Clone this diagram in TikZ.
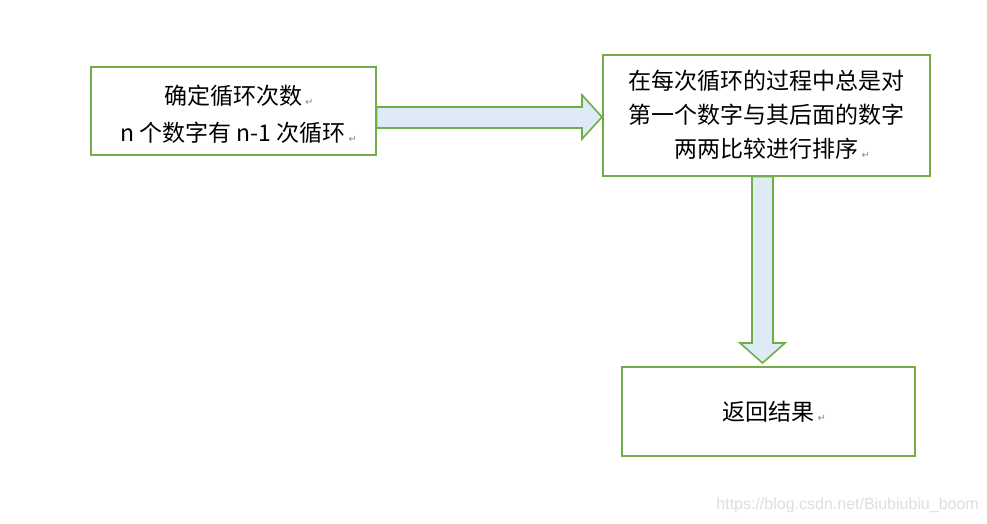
\documentclass[tikz,border=0pt]{standalone}
\usepackage{fontspec}
\setmainfont{Noto Sans CJK SC}
\newfontfamily\retfont{DejaVu Sans}
\newfontfamily\wmfont{Liberation Sans}
\definecolor{boxgreen}{HTML}{70AD47}
\definecolor{arrowfill}{HTML}{DEEBF7}
\newcommand\retmark{\rlap{\hspace{3pt}\raisebox{-1pt}{\retfont\fontsize{10}{10}\selectfont\color{black!45}↵}}}
\newcommand\lowerline[1]{\raisebox{-3pt}[\height][\depth]{#1}}
\begin{document}
\begin{tikzpicture}[x=1pt,y=-1pt,
  flowbox/.style={draw=boxgreen,line width=2pt,fill=white,align=center,inner sep=0pt},
  blockarrow/.style={draw=boxgreen,line width=1.6pt,fill=arrowfill,line join=miter},
  wm/.style={text=black!13,font=\wmfont\fontsize{16}{16}\selectfont,inner sep=0pt}]
\useasboundingbox (0,0) rectangle (987,523);
\fill[white] (0,0) rectangle (987,523);
% boxes
\node[flowbox,minimum width=285,minimum height=88,font=\fontsize{23}{37}\selectfont] (b1) at (233,111)
  {\lowerline{确定循环次数\retmark}\\\lowerline{n 个数字有 n-1 次循环\retmark}};
\node[flowbox,minimum width=327,minimum height=121,font=\fontsize{23}{34}\selectfont] (b2) at (766.5,115)
  {在每次循环的过程中总是对\\第一个数字与其后面的数字\\两两比较进行排序\retmark};
\node[flowbox,minimum width=293,minimum height=89,font=\fontsize{23}{34}\selectfont] (b3) at (768.5,411.5)
  {返回结果\retmark};
% horizontal block arrow
\coordinate (hb) at (582,0);
\draw[blockarrow] (b1.east |- 0,107) -- (hb |- 0,107) -- (hb |- 0,95) -- (b2.west |- 0,117)
  -- (hb |- 0,139) -- (hb |- 0,128) -- (b1.east |- 0,128) -- cycle;
% vertical block arrow
\coordinate (vtip) at (762.5,363);
\draw[blockarrow] (752,0 |- b2.south) -- (752,343) -- (740,343) -- (vtip) -- (785,343)
  -- (773,343) -- (773,0 |- b2.south) -- cycle;
% watermark
\node[wm,anchor=east] (wmark) at (979,505) {https://blog.csdn.net/Biubiubiu\_boom};
\end{tikzpicture}
\end{document}
